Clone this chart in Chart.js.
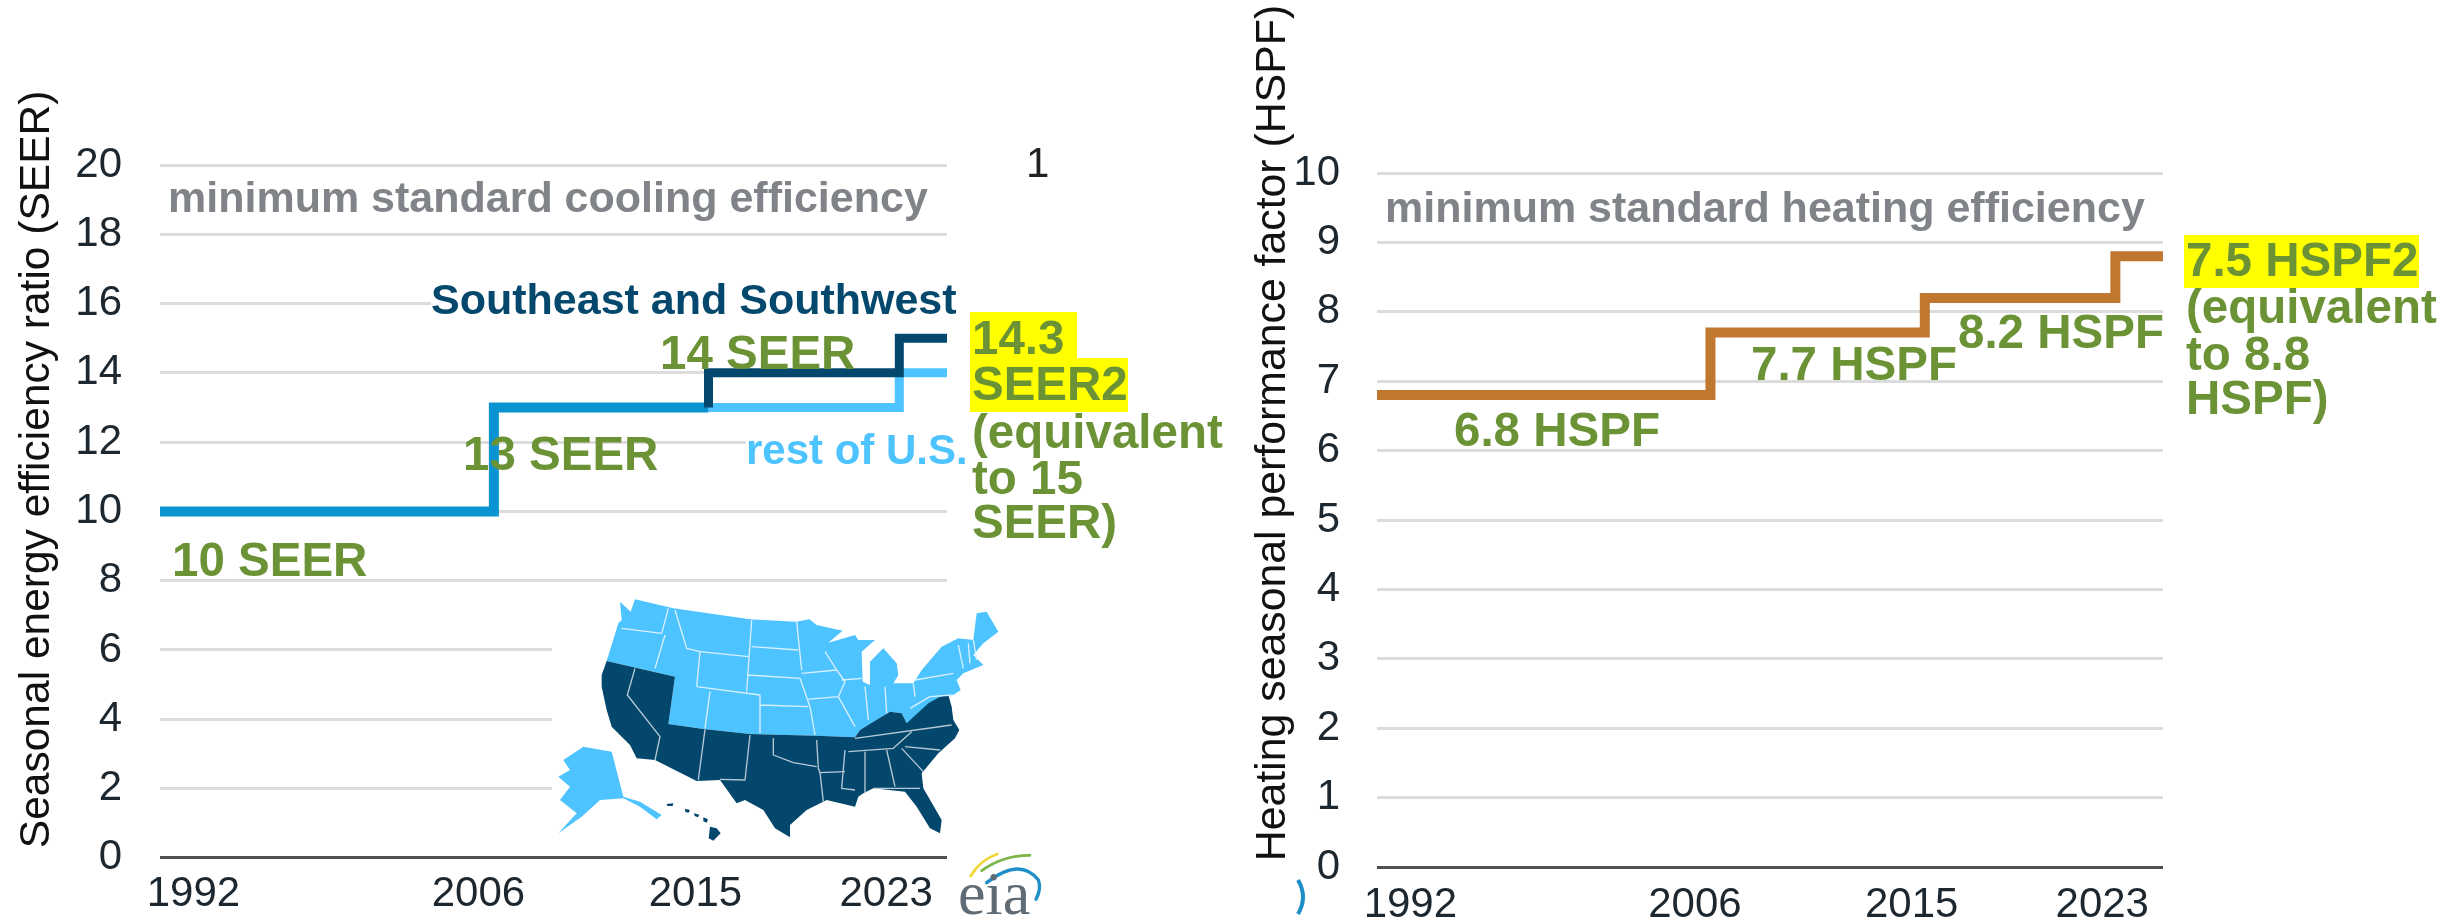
<!DOCTYPE html>
<html><head><meta charset="utf-8">
<style>html,body{margin:0;padding:0;background:#fff;width:2446px;height:920px;overflow:hidden}
.c{position:absolute;top:0}</style>
<script src="https://cdn.jsdelivr.net/npm/chart.js@4"></script></head>
<body>
<div class="c" style="left:0;width:1240px;height:920px;overflow:hidden"><canvas id="a"></canvas></div>
<div class="c" style="left:1240px;width:1206px;height:920px;overflow:hidden"><canvas id="b"></canvas></div>
<script>
const tickLabels=['1992','2006','2015','2023'];
const nationalYears=[1992,2006,2015];
const nationalSeer=[10,13,13];
const restYears=[2015,2023,2025];
const restSeer=[13,14,14];
const southYears=[2015,2015,2023,2025];
const southSeer=[13,14,15,15];
const hspfYears=[1992,2006,2015,2023,2025];
const hspfValues=[6.8,7.7,8.2,8.8,8.8];

const FONT='"Liberation Sans", Arial, sans-serif';
const GREEN='#6b9336',GREY='#808488',DARK='#05486d',LIGHT='#4dc3ff',MID='#0a93d1',BROWN='#c07830';
const tickSpots=[1993.4,2005.35,2014.45,2022.45];
const zip=(x,y)=>x.map((v,i)=>({x:v,y:y[i]}));

function txt(ctx,s,x,y,size,color,weight,font){
  ctx.font=(weight||'bold')+' '+size+'px '+(font||FONT);
  ctx.fillStyle=color;ctx.textAlign='left';ctx.textBaseline='middle';
  ctx.fillText(s,x,y+3);
}
function rect(ctx,x,y,w,h,c){ctx.fillStyle=c;ctx.fillRect(x,y,w,h);}

// --- decorative US map + logo, sketch coordinates are 3x page pixels ---
const northPath='M240 65L272 95L285 58L400 85L630 118L768 125L808 118L830 135L908 152L865 188L945 165L955 180L1005 180L965 215L968 305L990 315L990 245L1030 205L1070 250L1075 285L1060 310L1120 310L1145 270L1205 200L1255 175L1300 180L1310 100L1340 95L1375 155L1330 190L1300 225L1330 255L1270 280L1250 300L1262 330L1240 345L1200 350L1170 370L1110 425L1100 430L1085 400L1050 395L1000 425L960 450L945 472L830 467L630 462L490 447L385 432L405 290L200 243L235 130L245 120Z';
const southPath='M200 243L405 290L385 432L490 447L630 462L830 467L945 472L960 450L1000 425L1050 395L1085 400L1100 430L1165 370L1200 350L1225 345L1235 380L1240 420L1258 450L1245 475L1195 520L1145 580L1150 625L1205 720L1200 760L1170 745L1130 680L1095 635L1000 625L970 640L955 650L945 680L860 660L800 690L750 735L750 772L705 745L670 690L615 660L590 670L540 600L470 603L345 540L290 535L270 495L215 440L200 390L185 320L185 285Z';
const alaskaPath='M70 540L130 500L215 515L250 650L300 665L365 705L350 718L300 680L250 655L180 660L125 710L55 760L110 700L60 660L90 620L55 590L90 570Z';
const hawaiiPath='M380 672L400 670L398 678L382 678ZM435 686L450 690L446 698L436 696ZM462 700L478 704L474 712L464 708ZM490 712L504 718L500 728L490 724ZM510 740L530 745L542 760L520 782L506 775Z';
const stateLines='M245 145L365 160M385 85L365 160M375 165L345 265M405 90L440 205L480 215L470 320M480 215L625 230M635 120L620 335M635 200L775 210M770 125L785 270M625 285L780 295L810 380L825 465M660 375L805 380M470 320L660 345L660 460M510 335L495 445M785 280L890 270M800 358L895 350M855 215L890 270L915 305L895 350L945 440M905 300L965 295M975 320L985 420M1035 320L1040 400M1120 310L1125 350M1125 300L1240 280M1255 195L1270 265M1285 190L1290 250M1300 180L1310 240M1110 385L1170 350L1240 345';
const southLines='M285 265L262 345L360 470L345 540M495 448L475 600M630 465L615 600L540 598M700 475L700 525L760 548L830 560M830 480L835 565L840 578L915 575M840 578L850 665M915 510L905 625L945 630M975 515L975 640M1040 510L1065 620M1000 625L1140 625M945 475L1235 435M925 515L1060 505L1115 455M1095 500L1200 510M1085 505L1150 575';

function drawMap(ctx){
  ctx.save();ctx.translate(540,580);ctx.scale(1/3,1/3);
  ctx.fillStyle=LIGHT;ctx.fill(new Path2D(northPath));ctx.fill(new Path2D(alaskaPath));
  ctx.fillStyle='#03476c';ctx.fill(new Path2D(southPath));ctx.fill(new Path2D(hawaiiPath));
  ctx.lineWidth=4;ctx.lineJoin='round';
  ctx.strokeStyle='#d8f0ff';ctx.stroke(new Path2D(stateLines));
  ctx.strokeStyle='#b7c9d6';ctx.stroke(new Path2D(southLines));
  // eia logo arcs
  ctx.lineCap='round';ctx.lineWidth=8;
  ctx.strokeStyle='#f2d633';ctx.stroke(new Path2D('M1292 888Q1320 840 1372 822'));
  ctx.strokeStyle='#7ab648';ctx.stroke(new Path2D('M1325 872Q1390 825 1470 826'));
  ctx.strokeStyle='#1f8fc9';ctx.lineWidth=10;ctx.stroke(new Path2D('M1340 908Q1440 830 1495 900Q1505 925 1488 958'));
  ctx.restore();
  txt(ctx,'eia',958,895,62,'#5f6b75','normal','"Liberation Serif", serif');
}

const coolingMarks={id:'coolingMarks',
  beforeDatasetsDraw(c){const x=c.ctx;x.save();
    rect(x,431,290,519,22,'#fff');rect(x,746,440,204,24,'#fff');rect(x,552,590,398,260,'#fff');
    x.restore();},
  afterDatasetsDraw(c){const x=c.ctx;x.save();
    drawMap(x);
    txt(x,'minimum standard cooling efficiency',168,197,43,GREY);
    txt(x,'Southeast and Southwest',431,299,43,DARK);
    txt(x,'rest of U.S.',746,449,42,LIGHT);
    txt(x,'10 SEER',172,560,47.5,GREEN);
    txt(x,'13 SEER',463,454,47.5,GREEN);
    txt(x,'14 SEER',660,353,47.5,GREEN);
    rect(x,970,312,107,46,'#ffff00');rect(x,970,358,158,54,'#ffff00');
    ['14.3','SEER2','(equivalent','to 15','SEER)'].forEach((s,i)=>txt(x,s,972,[338,384,432,478,522][i],47.5,GREEN));
    txt(x,'1',1026,162,42,'#222','normal');
    x.restore();}};

const heatingMarks={id:'heatingMarks',
  afterDatasetsDraw(c){const x=c.ctx;x.save();
    txt(x,'minimum standard heating efficiency',145,207,43,GREY);
    txt(x,'6.8 HSPF',214,430,47.5,GREEN);
    txt(x,'7.7 HSPF',511,364,47.5,GREEN);
    txt(x,'8.2 HSPF',718,332,47.5,GREEN);
    rect(x,944,235,235,53,'#ffff00');
    ['7.5 HSPF2','(equivalent','to 8.8','HSPF)'].forEach((s,i)=>txt(x,s,946,[260,307,354,398][i],47.5,GREEN));
    x.strokeStyle='#1f8fc9';x.lineWidth=4;x.stroke(new Path2D('M58 880Q68 897 58 914'));
    x.restore();}};

const shiftTitle=dy=>({id:'shiftTitle',afterLayout(c){const s=c.scales.y;
  if(s.__w)return;s.__w=1;const o=s.drawTitle;
  s.drawTitle=function(){const x=this.ctx;x.save();x.translate(0,dy);o.call(this);x.restore();};}});

function make(id,datasets,cfg){
  const el=document.getElementById(id);
  el.width=cfg.w;el.height=cfg.h;el.style.width=cfg.w+'px';el.style.height=cfg.h+'px';
  return new Chart(el,{type:'line',
    data:{datasets},
    plugins:[cfg.marks,shiftTitle(cfg.titleShift)],
    options:{responsive:false,animation:false,maintainAspectRatio:false,
      layout:{padding:{top:cfg.top,right:cfg.right,left:0,bottom:0}},
      plugins:{legend:{display:false},tooltip:{enabled:false}},
      elements:{point:{radius:0},line:{stepped:true,borderJoinStyle:'miter',borderCapStyle:'butt'}},
      scales:{
        x:{type:'linear',min:1992,max:2025,
          grid:{display:false},border:{display:false},
          afterBuildTicks:a=>{a.ticks=tickSpots.map(v=>({value:v}));},
          afterFit:s=>{s.height=63;},
          ticks:{autoSkip:false,maxRotation:0,padding:cfg.xpad,color:'#1c2730',font:{family:FONT,size:42},
            callback:(v,i)=>tickLabels[i]}},
        y:{min:0,max:cfg.ymax,
          grid:{drawTicks:false,lineWidth:3,color:k=>k.tick.value===0?'#505050':'#dcdcdc'},
          border:{display:false},
          afterFit:s=>{s.width=cfg.yw;},
          title:{display:true,text:cfg.title,color:'#111',font:{family:FONT,size:cfg.tsize},padding:{top:cfg.tpad,bottom:0}},
          ticks:{stepSize:cfg.step,padding:cfg.ypad,color:'#1c2730',font:{family:FONT,size:42}}}
      }}});
}

make('a',[
  {data:zip(southYears,southSeer),borderColor:DARK,borderWidth:9,clip:false},
  {data:zip(nationalYears,nationalSeer),borderColor:MID,borderWidth:10,clip:false},
  {data:zip(restYears,restSeer),borderColor:LIGHT,borderWidth:9,clip:false}
],{w:1240,h:921,marks:coolingMarks,top:165,right:293,yw:160,ymax:20,step:2,xpad:3,ypad:38,tsize:42.5,tpad:12,titleShift:-42,
   title:'Seasonal energy efficiency ratio (SEER)'});
make('b',[
  {data:zip(hspfYears,hspfValues),borderColor:BROWN,borderWidth:10,clip:false}
],{w:1206,h:930,marks:heatingMarks,top:173,right:283,yw:137,ymax:10,step:1,xpad:5,ypad:37,tsize:42.8,tpad:8,titleShift:-87,
   title:'Heating seasonal performance factor (HSPF)'});
</script>
</body></html>
